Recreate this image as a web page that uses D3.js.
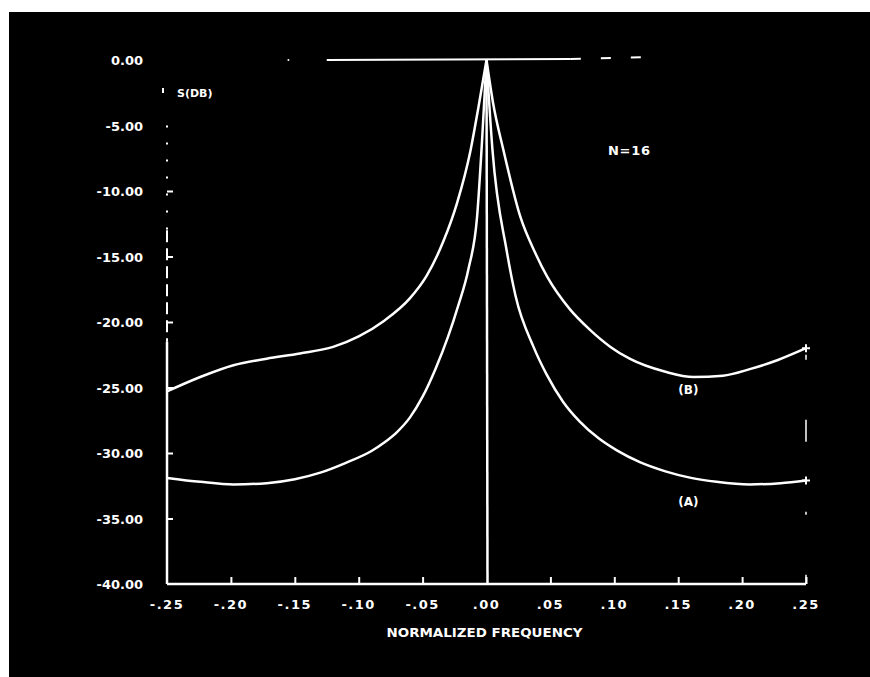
<!DOCTYPE html>
<html>
<head>
<meta charset="utf-8">
<script src="https://cdn.jsdelivr.net/npm/d3@7/dist/d3.min.js"></script>
<style>
  body { margin: 0; background: #fff; }
  svg { display: block; }
  text { fill: #fff; font-family: 'DejaVu Sans', sans-serif; font-weight: bold; }
</style>
</head>
<body>
<div class="chart"></div>
<script>
// axis ticks
const freqTicks = [-0.25, -0.20, -0.15, -0.10, -0.05, 0, 0.05, 0.10, 0.15, 0.20, 0.25];
const freqTickLabels = ['-.25', '-.20', '-.15', '-.10', '-.05', '.00', '.05', '.10', '.15', '.20', '.25'];
const dbTicks = [0, -5, -10, -15, -20, -25, -30, -35, -40];
const dbTickLabels = ['0.00', '-5.00', '-10.00', '-15.00', '-20.00', '-25.00', '-30.00', '-35.00', '-40.00'];

// curve (A)
const freqA = [-0.25, -0.224, -0.198, -0.172, -0.15, -0.13, -0.11, -0.09, -0.08, -0.07, -0.06, -0.05, -0.04, -0.03, -0.0223, -0.014, -0.0074, -0.0035, 0,
  0.0047, 0.0157, 0.0227, 0.0368, 0.047, 0.06, 0.073, 0.088, 0.102, 0.12, 0.14, 0.16, 0.18, 0.206, 0.23, 0.25];
const dbA = [-31.9, -32.2, -32.4, -32.3, -32.0, -31.5, -30.75, -29.85, -29.2, -28.4, -27.3, -25.7, -23.6, -21.1, -18.8, -15.9, -12.0, -6.2, 0,
  -6.9, -14.5, -18.0, -21.9, -24.0, -26.1, -27.6, -28.9, -29.8, -30.7, -31.4, -31.9, -32.2, -32.4, -32.3, -32.1];

// curve (B)
const freqB = [-0.25, -0.224, -0.198, -0.172, -0.146, -0.12, -0.1, -0.08, -0.06, -0.047, -0.034, -0.023, -0.0125, -0.0063, 0,
  0.005, 0.0133, 0.0266, 0.038, 0.0478, 0.065, 0.081, 0.097, 0.112, 0.14, 0.162, 0.185, 0.206, 0.228, 0.25];
const dbB = [-25.3, -24.2, -23.3, -22.8, -22.4, -21.9, -21.1, -19.9, -18.2, -16.5, -13.9, -10.9, -6.9, -3.6, 0,
  -3.2, -6.9, -12.0, -14.7, -16.6, -19.0, -20.6, -21.9, -22.8, -23.8, -24.2, -24.1, -23.6, -22.9, -22.0];

const curveLabels = ['(A)', '(B)'];

const width = 870, height = 677;

const svg = d3.select('.chart')
  .append('svg')
  .attr('width', width)
  .attr('height', height);

// black photo area
svg.append('rect')
  .attr('x', 9).attr('y', 12)
  .attr('width', width - 9).attr('height', height - 12)
  .attr('fill', '#000');

const x = d3.scaleLinear().domain([-0.25, 0.25]).range([167, 806]);
const y = d3.scaleLinear().domain([0, -40]).range([60, 584]);

const white = '#fff';

// x axis
const xAxis = d3.axisTop(x)
  .tickValues(freqTicks.filter(d => d !== 0 && d !== -0.25))
  .tickSize(7)
  .tickFormat('');

const xg = svg.append('g')
  .attr('transform', 'translate(0,' + y(-40) + ')')
  .call(xAxis);
xg.select('.domain').remove();
xg.selectAll('line').attr('stroke', white).attr('stroke-width', 2);

svg.append('line')
  .attr('x1', x(-0.25)).attr('x2', x(0.25))
  .attr('y1', y(-40)).attr('y2', y(-40))
  .attr('stroke', white).attr('stroke-width', 2.5);

svg.selectAll('.xlab')
  .data(freqTicks)
  .enter()
  .append('text')
  .attr('class', 'xlab')
  .attr('x', d => x(d))
  .attr('y', y(-40) + 25)
  .attr('text-anchor', 'middle')
  .attr('font-size', '13px')
  .style('letter-spacing', '1.5px')
  .text((d, i) => freqTickLabels[i]);

svg.append('text')
  .attr('x', x(0) - 2)
  .attr('y', y(-40) + 53)
  .attr('text-anchor', 'middle')
  .attr('font-size', '12px')
  .attr('textLength', 196)
  .attr('lengthAdjust', 'spacingAndGlyphs')
  .text('NORMALIZED FREQUENCY');

// y axis, broken at the top like the scan
svg.append('line')
  .attr('x1', x(-0.25)).attr('x2', x(-0.25))
  .attr('y1', y(-5)).attr('y2', y(-13))
  .attr('stroke', white).attr('stroke-width', 2)
  .attr('stroke-dasharray', '2,15');
svg.append('line')
  .attr('x1', x(-0.25)).attr('x2', x(-0.25))
  .attr('y1', y(-13)).attr('y2', y(-21.5))
  .attr('stroke', white).attr('stroke-width', 2)
  .attr('stroke-dasharray', '12,6');
svg.append('line')
  .attr('x1', x(-0.25)).attr('x2', x(-0.25))
  .attr('y1', y(-21.5)).attr('y2', y(-40))
  .attr('stroke', white).attr('stroke-width', 2.5);

svg.append('line')
  .attr('x1', 163).attr('x2', 163)
  .attr('y1', 88).attr('y2', 93)
  .attr('stroke', white).attr('stroke-width', 2);

const yAxis = d3.axisRight(y)
  .tickValues(dbTicks.filter(d => d < -5 && d > -40))
  .tickSize(6)
  .tickFormat('');

const yg = svg.append('g')
  .attr('transform', 'translate(' + x(-0.25) + ',0)')
  .call(yAxis);
yg.select('.domain').remove();
yg.selectAll('line').attr('stroke', white).attr('stroke-width', 2);

svg.selectAll('.ylab')
  .data(dbTicks)
  .enter()
  .append('text')
  .attr('class', 'ylab')
  .attr('x', 143)
  .attr('y', d => y(d) + 5)
  .attr('text-anchor', 'end')
  .attr('font-size', '13px')
  .text((d, i) => dbTickLabels[i]);

svg.append('text')
  .attr('x', 177)
  .attr('y', 97)
  .attr('font-size', '11px')
  .text('S(DB)');

// right edge, dashed
svg.append('line')
  .attr('x1', x(0.25)).attr('x2', x(0.25))
  .attr('y1', y(-22.5)).attr('y2', y(-40))
  .attr('stroke', white).attr('stroke-width', 1.5)
  .attr('stroke-dasharray', '5,60,22,70,3,60,20');

// 0 dB reference line
svg.append('line')
  .attr('x1', x(-0.125)).attr('x2', x(0.066))
  .attr('y1', y(0)).attr('y2', y(0) - 1)
  .attr('stroke', white).attr('stroke-width', 2);
svg.append('line')
  .attr('x1', x(0.066)).attr('x2', x(0.125))
  .attr('y1', y(0) - 1).attr('y2', y(0) - 3)
  .attr('stroke', white).attr('stroke-width', 2)
  .attr('stroke-dasharray', '10,20');
svg.append('circle')
  .attr('cx', x(-0.155)).attr('cy', y(0))
  .attr('r', 1).attr('fill', white);

// centre line at f = 0
svg.append('line')
  .attr('x1', x(0)).attr('x2', x(0) + 1)
  .attr('y1', y(0)).attr('y2', y(-40))
  .attr('stroke', white).attr('stroke-width', 2.5);

// curves, drawn as two halves so the peak stays sharp
const line = d3.line()
  .x(d => x(d[0]))
  .y(d => y(d[1]))
  .curve(d3.curveMonotoneX);

const series = [d3.zip(freqA, dbA), d3.zip(freqB, dbB)];

series.forEach(pts => {
  const left = pts.filter(p => p[0] <= 0);
  const right = pts.filter(p => p[0] >= 0);
  [left, right].forEach(half => {
    svg.append('path')
      .datum(half)
      .attr('d', line)
      .attr('fill', 'none')
      .attr('stroke', white)
      .attr('stroke-width', 2.5);
  });
  const end = pts[pts.length - 1];
  // little + at the right end
  svg.append('path')
    .attr('d', 'M' + (x(end[0]) - 4) + ',' + y(end[1]) + 'h8M' + x(end[0]) + ',' + (y(end[1]) - 4) + 'v8')
    .attr('stroke', white)
    .attr('stroke-width', 2);
});

svg.selectAll('.clab')
  .data(curveLabels)
  .enter()
  .append('text')
  .attr('class', 'clab')
  .attr('x', x(0.158))
  .attr('y', (d, i) => i === 0 ? y(-33.7) + 5 : y(-25.1) + 5)
  .attr('text-anchor', 'middle')
  .attr('font-size', '12px')
  .text(d => d);

svg.append('text')
  .attr('x', 608)
  .attr('y', 155)
  .attr('font-size', '13px')
  .attr('textLength', 42)
  .text('N=16');
</script>
</body>
</html>
